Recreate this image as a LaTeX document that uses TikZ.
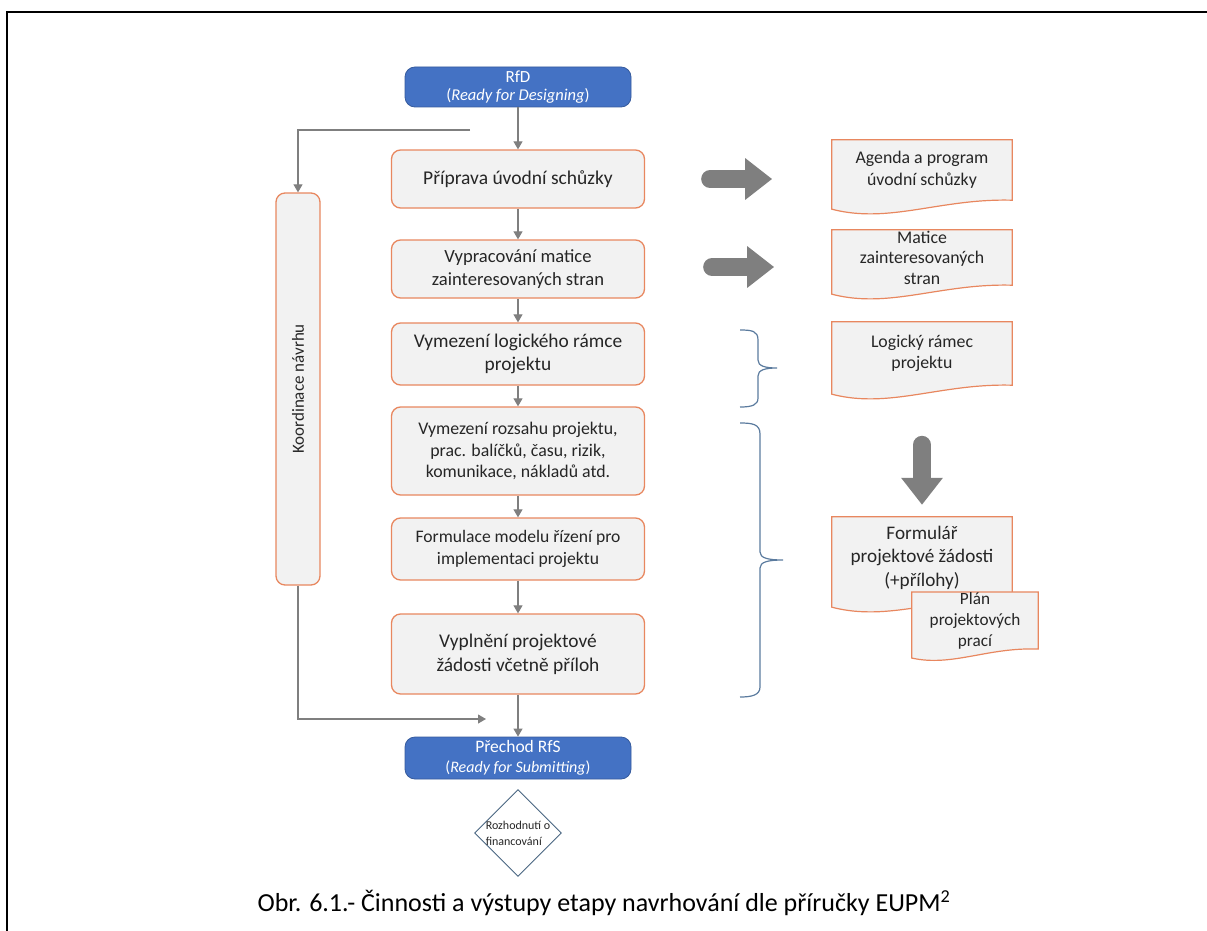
\documentclass[tikz,border=0pt]{standalone}
\usepackage{fontspec}
\setmainfont{Carlito}
\usetikzlibrary{arrows.meta,shapes.geometric,calc,backgrounds}

\definecolor{stepfill}{HTML}{F2F2F2}
\definecolor{stepline}{HTML}{E8875F}
\definecolor{gateblue}{HTML}{4472C4}
\definecolor{flowgray}{HTML}{7F7F7F}
\definecolor{bracecol}{HTML}{5B7B9E}
\definecolor{decline}{HTML}{4A6682}
\definecolor{inktext}{HTML}{262626}

% document symbol: straight top and sides, wavy bottom edge
\newcommand\docoutline[2]{%
  \path[docline] (#1.north west) -- (#1.north east) -- (#1.south east)
    .. controls ($(#1.south east)!0.4!(#1.south west)+(0,-2)$)
    and ($(#1.south west)!0.32!(#1.south east)+(0,#2)$)
    .. ($(#1.south west)+(0,9)$) -- cycle;}

\begin{document}
\begin{tikzpicture}[x=1pt,y=-1pt,
  stepbox/.style={draw=stepline, fill=stepfill, line width=1.3pt,
    rounded corners=9pt, minimum width=253pt, align=center,
    inner sep=2pt, text=inktext},
  gatebox/.style={draw=gateblue!80!black, fill=gateblue, line width=0.8pt,
    rounded corners=10pt, minimum width=226pt, text=white, align=center,
    inner sep=0pt},
  docnode/.style={minimum width=180pt, align=center, inner sep=0pt,
    text=inktext},
  docline/.style={draw=stepline, fill=stepfill, line width=1.2pt},
  conn/.style={draw=flowgray, line width=1.1pt,
    -{Triangle[width=9pt,length=8pt]}},
  bigarrow/.style={draw=flowgray, line width=18pt, line cap=round,
    -{Triangle[width=40pt,length=27pt]}},
  bracepath/.style={draw=bracecol, line width=1.2pt},
]
\useasboundingbox (0,0) rectangle (1207,931);

% page frame
\draw[line width=2.5pt] (7,931) -- (7,12) -- (1207,12);

% start and end gates
\node[gatebox, minimum height=40pt, font=\fontsize{16.5}{18.5}\selectfont]
  (rfd) at (518,87) {\fontsize{17}{18.5}\selectfont RfD\\(\textit{Ready for Designing})};
\node[gatebox, minimum height=42pt, font=\fontsize{16}{20}\selectfont]
  (rfs) at (518,758) {\fontsize{17.5}{20}\selectfont Přechod RfS\\(\textit{Ready for Submitting})};

% activity steps
\node[stepbox, minimum height=58pt, font=\fontsize{19.5}{23}\selectfont]
  (b1) at (518,179) {Příprava úvodní schůzky};
\node[stepbox, minimum height=58pt, font=\fontsize{18.6}{23}\selectfont]
  (b2) at (518,269) {Vypracování matice\\zainteresovaných stran};
\node[stepbox, minimum height=62pt, font=\fontsize{19.4}{23}\selectfont]
  (b3) at (518,354) {Vymezení logického rámce\\projektu};
\node[stepbox, minimum height=88pt, font=\fontsize{17.8}{21.5}\selectfont]
  (b4) at (518,451) {Vymezení rozsahu projektu,\\prac. balíčků, času, rizik,\\komunikace, nákladů atd.};
\node[stepbox, minimum height=62pt, font=\fontsize{17.6}{22}\selectfont]
  (b5) at (518,549) {Formulace modelu řízení pro\\implementaci projektu};
\node[stepbox, minimum height=80pt, font=\fontsize{19.4}{24}\selectfont]
  (b6) at (518,654) {Vyplnění projektové\\žádosti včetně příloh};

% coordination bar
\node[stepbox, rotate=90, minimum width=392pt, minimum height=44pt,
  font=\fontsize{17}{20}\selectfont] (k) at (298,389) {Koordinace návrhu};

% decision
\node[diamond, draw=decline, line width=0.9pt, fill=white, aspect=1,
  minimum width=87pt, minimum height=87pt, inner sep=-9pt, align=left,
  text=inktext, font=\fontsize{12}{16}\selectfont] (dec) at (518,833)
  {Rozhodnutí o\\financování};

% main flow
\draw[conn] (rfd) -- (b1);
\draw[conn] (b1) -- (b2);
\draw[conn] (b2) -- (b3);
\draw[conn] (b3) -- (b4);
\draw[conn] (b4) -- (b5);
\draw[conn] (b5) -- (b6);
\draw[conn] (b6) -- (rfs);

% coordination branch
\coordinate (ktop) at (470,130);
\coordinate (kend) at (486,719);
\draw[conn] (ktop) -| (k.east);
\draw[conn] (k.west) |- (kend);

% outputs
\node[docnode, minimum height=60pt, font=\fontsize{17.8}{22}\selectfont]
  (d1) at (922,170) {Agenda a program\\úvodní schůzky};
\node[docnode, minimum height=55pt, font=\fontsize{17.8}{20.5}\selectfont]
  (d2) at (922,257.5) {Matice\\zainteresovaných\\stran};
\node[docnode, minimum height=63pt, font=\fontsize{17.8}{21}\selectfont]
  (d3) at (922,353.5) {Logický rámec\\projektu};
\node[docnode, minimum height=81pt, font=\fontsize{19.2}{23.5}\selectfont]
  (d4) at (922,557.5) {Formulář\\projektové žádosti\\(+přílohy)};
\node[docnode, minimum width=126pt, minimum height=55pt,
  font=\fontsize{17.2}{21}\selectfont]
  (d5) at (975,620.5) {Plán\\projektových\\prací};

\begin{pgfonlayer}{background}
  \docoutline{d1}{24}
  \docoutline{d2}{24}
  \docoutline{d3}{24}
  \docoutline{d4}{24}
  \docoutline{d5}{18}
\end{pgfonlayer}

% broad output arrows
\draw[bigarrow] ($(b1.east)+(65,0)$) -- ($(b1.east)+(127,0)$);
\draw[bigarrow] ($(b2.east)+(67,-2)$) -- ($(b2.east)+(129,-2)$);
\draw[bigarrow] ($(d4.north)+(0,-72)$) -- ($(d4.north)+(0,-12)$);

% braces grouping steps to outputs
\draw[bracepath] (740,330) .. controls (752,330) and (758,331) .. (758,340)
  -- (758,360) .. controls (758,366) and (765,368) .. (777,368)
  .. controls (765,368) and (758,370) .. (758,376)
  -- (758,398) .. controls (758,405) and (752,407) .. (740,407);
\draw[bracepath] (740,423) .. controls (752,423) and (760,424) .. (760,434)
  -- (760,552) .. controls (760,558) and (768,560) .. (783,560)
  .. controls (768,560) and (760,562) .. (760,568)
  -- (760,687) .. controls (760,695) and (752,697) .. (740,697);

% caption
\node[font=\fontsize{26}{30}\selectfont, text=black] (cap) at (604,903)
  {Obr. 6.1.- Činnosti a výstupy etapy navrhování dle příručky EUPM\textsuperscript{2}};
\end{tikzpicture}
\end{document}
